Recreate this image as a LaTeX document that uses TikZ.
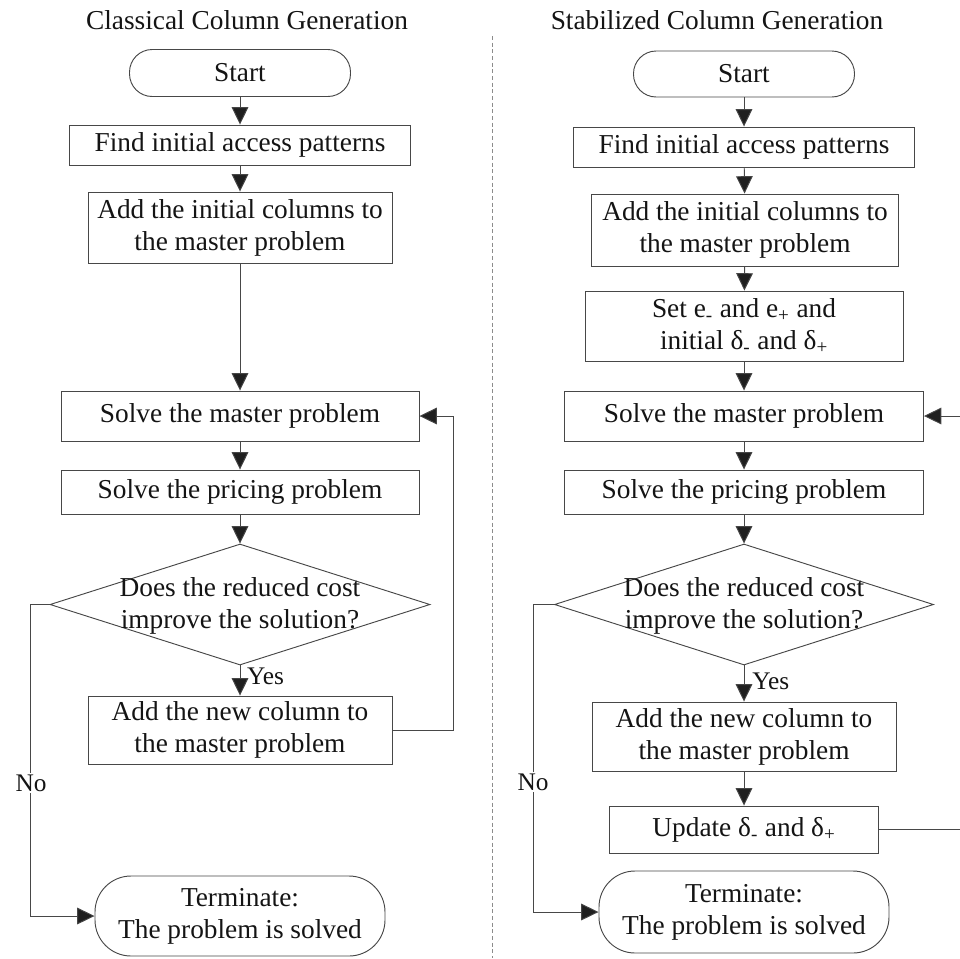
\documentclass[tikz,border=0pt]{standalone}
\usepackage{fontspec}
\setmainfont{Liberation Serif}
\usetikzlibrary{arrows.meta,shapes.geometric}

\tikzset{
  lineclr/.style={draw=black!72},
  txt/.style={font=\fontsize{20.5}{24}\selectfont, text=black!92, align=center, inner sep=0pt},
  box/.style={txt, lineclr, line width=0.7pt, rectangle},
  term/.style={box, rounded corners=#1},
  dec/.style={lineclr, line width=0.7pt, diamond, inner sep=0pt},
  lbl/.style={font=\fontsize{19}{22}\selectfont, text=black!92, inner sep=1pt},
  arr/.style={lineclr, line width=0.7pt, -{Triangle[length=13pt,width=12.5pt,fill=black!88]}},
  title/.style={font=\fontsize{20.5}{24}\selectfont, text=black!92, inner sep=0pt}
}

\begin{document}
\begin{tikzpicture}[x=0.75pt, y=-0.75pt]
\useasboundingbox (0,0) rectangle (960,958);

% headings and separator
\node[title] (ltitle) at (247,20) {Classical Column Generation};
\node[title] (rtitle) at (717,20) {Stabilized Column Generation};
\draw[black!45, line width=0.7pt, dash pattern=on 3pt off 2pt] (492,36) -- (492,958);

% ---------------- classical column generation ----------------
\node[term=17pt, minimum width=165.75pt, minimum height=35.25pt] (lstart) at (240,73) {Start};
\node[box, minimum width=255.75pt, minimum height=30pt] (lfind) at (240,145) {Find initial access patterns};
\node[box, minimum width=228pt, minimum height=53.25pt] (ladd) at (240,227.5) {Add the initial columns to\\the master problem};
\node[box, minimum width=268.5pt, minimum height=37.5pt] (lmaster) at (240,416) {Solve the master problem};
\node[box, minimum width=268.5pt, minimum height=33pt] (lprice) at (240,492) {Solve the pricing problem};
\node[dec, minimum width=285pt, minimum height=90.75pt] (ldec) at (240,604.5) {};
\node[txt] (ldectxt) at (240,606) {Does the reduced cost\\improve the solution?};
\node[box, minimum width=228pt, minimum height=51pt] (lnew) at (240,730) {Add the new column to\\the master problem};
\node[term=27pt, minimum width=217.5pt, minimum height=60pt] (lterm) at (240,916) {Terminate:\\The problem is solved};

\coordinate (lloop) at (453,416);
\coordinate (lno) at (30,604.5);

\draw[arr] (lstart) -- (lfind);
\draw[arr] (lfind) -- (ladd);
\draw[arr] (ladd) -- (lmaster);
\draw[arr] (lmaster) -- (lprice);
\draw[arr] (lprice) -- (ldec.north);
\draw[arr] (ldec.south) -- (lnew) node[lbl, pos=0.35, anchor=west, xshift=4pt] (lyes) {Yes};
\draw[arr] (lnew.east) -| (lloop) -- (lmaster.east);
\draw[arr] (ldec.west) -- (lno) |- (lterm.west);
\node[lbl, fill=white] (lnolbl) at (31,783) {No};

% ---------------- stabilized column generation ----------------
\node[term=17pt, minimum width=165.75pt, minimum height=34.5pt] (rstart) at (744,74) {Start};
\node[box, minimum width=255.75pt, minimum height=30pt] (rfind) at (744,147) {Find initial access patterns};
\node[box, minimum width=230pt, minimum height=54pt] (radd) at (745,230) {Add the initial columns to\\the master problem};
\node[box, minimum width=238.5pt, minimum height=52.5pt] (rset) at (744,326) {Set e\textsubscript{-} and e\textsubscript{+} and\\initial δ\textsubscript{-} and δ\textsubscript{+}};
\node[box, minimum width=269.25pt, minimum height=37.5pt] (rmaster) at (744,416) {Solve the master problem};
\node[box, minimum width=269.25pt, minimum height=33pt] (rprice) at (744,492) {Solve the pricing problem};
\node[dec, minimum width=284.25pt, minimum height=90.75pt] (rdec) at (744,604.5) {};
\node[txt] (rdectxt) at (744,606) {Does the reduced cost\\improve the solution?};
\node[box, minimum width=228pt, minimum height=51.75pt] (rnew) at (744,736.5) {Add the new column to\\the master problem};
\node[box, minimum width=201.75pt, minimum height=35.25pt] (rupdate) at (744,829.5) {Update δ\textsubscript{-} and δ\textsubscript{+}};
\node[term=27pt, minimum width=217.5pt, minimum height=61.5pt] (rterm) at (744,912) {Terminate:\\The problem is solved};

\coordinate (rloop) at (966,416);
\coordinate (rno) at (533,604.5);

\draw[arr] (rstart) -- (rfind);
\draw[arr] (rfind) -- (radd);
\draw[arr] (radd) -- (rset);
\draw[arr] (rset) -- (rmaster);
\draw[arr] (rmaster) -- (rprice);
\draw[arr] (rprice) -- (rdec.north);
\draw[arr] (rdec.south) -- (rnew) node[lbl, pos=0.45, anchor=west, xshift=5pt] (ryes) {Yes};
\draw[arr] (rnew) -- (rupdate);
\draw[arr] (rupdate.east) -| (rloop) -- (rmaster.east);
\draw[arr] (rdec.west) -- (rno) |- (rterm.west);
\node[lbl, fill=white] (rnolbl) at (533,782) {No};
\end{tikzpicture}
\end{document}
